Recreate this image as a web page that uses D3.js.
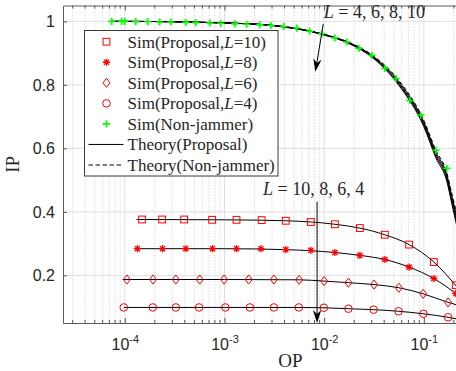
<!DOCTYPE html>
<html><head><meta charset="utf-8">
<script src="https://cdn.jsdelivr.net/npm/d3@7"></script>
<style>body{margin:0;background:#fff} svg{display:block}</style>
</head><body><svg id="chart" width="456" height="371"></svg>
<script>
// Tick values
const opTicks = [1e-4, 1e-3, 1e-2, 1e-1];
const ipTicks = [0.2, 0.4, 0.6, 0.8, 1];

// Simulation: non-jammer
const simNJ_OP = [7.41e-5, 9.33e-5, 1.0e-4, 1.29e-4, 1.70e-4, 2.24e-4, 2.90e-4, 4.09e-4, 5.15e-4, 7.13e-4, 9.18e-4, 1.27e-3, 1.67e-3, 2.26e-3, 2.92e-3, 3.94e-3, 5.32e-3, 7.13e-3, 9.48e-3, 1.28e-2, 1.69e-2, 2.23e-2, 3.01e-2, 4.06e-2, 5.24e-2, 7.23e-2, 9.33e-2, 0.132, 0.170];
const simNJ_IP = [1.000, 1.000, 1.000, 0.999, 0.999, 0.998, 0.998, 0.997, 0.996, 0.995, 0.994, 0.992, 0.991, 0.989, 0.987, 0.984, 0.979, 0.969, 0.961, 0.948, 0.935, 0.915, 0.893, 0.852, 0.820, 0.751, 0.705, 0.594, 0.537];

// Simulation: proposal, per L
const simL10_OP = [1.49e-4, 2.37e-4, 3.94e-4, 7.52e-4, 1.32e-3, 2.36e-3, 4.12e-3, 7.35e-3, 1.28e-2, 2.28e-2, 4.06e-2, 7.11e-2, 0.126, 0.209];
const simL10_IP = [0.376, 0.376, 0.376, 0.375, 0.375, 0.374, 0.372, 0.368, 0.361, 0.349, 0.328, 0.297, 0.242, 0.169];
const simL8_OP = [1.34e-4, 2.39e-4, 4.09e-4, 7.59e-4, 1.32e-3, 2.32e-3, 4.12e-3, 7.35e-3, 1.28e-2, 2.28e-2, 4.06e-2, 7.11e-2, 0.126, 0.209];
const simL8_IP = [0.284, 0.284, 0.284, 0.284, 0.284, 0.284, 0.281, 0.279, 0.272, 0.263, 0.250, 0.226, 0.190, 0.143];
const simL6_OP = [1.05e-4, 1.92e-4, 3.25e-4, 5.65e-4, 9.91e-4, 1.75e-3, 3.13e-3, 5.61e-3, 1.0e-2, 1.75e-2, 3.17e-2, 5.61e-2, 9.84e-2, 0.175];
const simL6_IP = [0.187, 0.187, 0.187, 0.187, 0.187, 0.187, 0.187, 0.186, 0.182, 0.177, 0.171, 0.161, 0.142, 0.115];
const simL4_OP = [9.77e-5, 1.91e-4, 3.25e-4, 5.56e-4, 1.02e-3, 1.80e-3, 3.13e-3, 5.57e-3, 9.93e-3, 1.75e-2, 3.13e-2, 5.57e-2, 9.89e-2, 0.175];
const simL4_IP = [0.099, 0.099, 0.099, 0.099, 0.099, 0.099, 0.099, 0.099, 0.098, 0.095, 0.092, 0.087, 0.079, 0.068];

// Theory: upper curves (non-jammer and proposal for L = 4, 6, 8, 10)
const thTop_OP = [7.2e-5, 1e-4, 1e-3, 3.16e-3, 1e-2, 1.78e-2, 3.16e-2, 5.62e-2, 0.1, 0.132, 0.17, 0.19, 0.214];
const thNJ_IP     = [1.0, 1.0, 0.995, 0.987, 0.959, 0.934, 0.890, 0.814, 0.688, 0.594, 0.524, 0.460, 0.395];
const thTopL4_IP  = [1.0, 1.0, 0.995, 0.987, 0.959, 0.933, 0.888, 0.810, 0.683, 0.588, 0.517, 0.452, 0.385];
const thTopL6_IP  = [1.0, 1.0, 0.995, 0.987, 0.958, 0.932, 0.886, 0.806, 0.678, 0.582, 0.510, 0.444, 0.375];
const thTopL8_IP  = [1.0, 1.0, 0.995, 0.986, 0.958, 0.931, 0.884, 0.802, 0.673, 0.576, 0.503, 0.436, 0.365];
const thTopL10_IP = [1.0, 1.0, 0.995, 0.986, 0.957, 0.930, 0.882, 0.798, 0.668, 0.570, 0.496, 0.428, 0.355];

// Theory: lower curves (proposal)
const thL10_OP = [1.31e-4, 1e-3, 4.12e-3, 1.28e-2, 2.28e-2, 4.06e-2, 7.11e-2, 0.126, 0.22];
const thL10_IP = [0.376, 0.375, 0.372, 0.361, 0.349, 0.328, 0.297, 0.242, 0.160];
const thL8_OP = [1.30e-4, 1e-3, 4.12e-3, 1.28e-2, 2.28e-2, 4.06e-2, 7.11e-2, 0.126, 0.22];
const thL8_IP = [0.284, 0.284, 0.281, 0.272, 0.263, 0.250, 0.226, 0.190, 0.138];
const thL6_OP = [9.5e-5, 1e-3, 5.61e-3, 1e-2, 1.75e-2, 3.17e-2, 5.61e-2, 9.84e-2, 0.175, 0.22];
const thL6_IP = [0.187, 0.187, 0.186, 0.182, 0.177, 0.171, 0.161, 0.142, 0.115, 0.106];
const thL4_OP = [9.77e-5, 1e-3, 5.57e-3, 9.93e-3, 1.75e-2, 3.13e-2, 5.57e-2, 9.89e-2, 0.175, 0.22];
const thL4_IP = [0.099, 0.099, 0.099, 0.098, 0.095, 0.092, 0.087, 0.079, 0.068, 0.062];

const legendLabels = [
  ["Sim(Proposal,", "L", "=10)"],
  ["Sim(Proposal,", "L", "=8)"],
  ["Sim(Proposal,", "L", "=6)"],
  ["Sim(Proposal,", "L", "=4)"],
  ["Sim(Non-jammer)"],
  ["Theory(Proposal)"],
  ["Theory(Non-jammer)"]
];

const zip = (a, b) => a.map((v, i) => [v, b[i]]);

const svg = d3.select("#chart");
const plot = {left: 63, top: 5.5, right: 458, bottom: 323};
const x = d3.scaleLog().domain([2.4e-5, 0.22]).range([plot.left, plot.right]);
const y = d3.scaleLinear().domain([0.05, 1.05]).range([plot.bottom, plot.top]);

const serif = "'Liberation Serif', 'Times New Roman', serif";
const sans = "'Liberation Sans', Arial, Helvetica, sans-serif";
const red = "#ff0000", green = "#00ff00";

svg.append("rect").attr("width", 456).attr("height", 371).attr("fill", "#fff");

svg.append("defs").append("clipPath").attr("id", "clip")
  .append("rect").attr("x", plot.left).attr("y", plot.top)
  .attr("width", plot.right - plot.left).attr("height", plot.bottom - plot.top);

// Grid
const minorOP = [];
for (let k = -5; k <= -1; k++) for (let m = 2; m <= 9; m++) {
  const v = m * Math.pow(10, k);
  if (v > x.domain()[0] && v < x.domain()[1]) minorOP.push(v);
}
const grid = svg.append("g");
grid.selectAll(".gmin").data(minorOP).join("line")
  .attr("x1", d => x(d)).attr("x2", d => x(d))
  .attr("y1", plot.top).attr("y2", plot.bottom)
  .attr("stroke", "#bdbdbd").attr("stroke-width", 0.8).attr("stroke-dasharray", "1,2");
grid.selectAll(".gmajx").data(opTicks).join("line")
  .attr("x1", d => x(d)).attr("x2", d => x(d))
  .attr("y1", plot.top).attr("y2", plot.bottom)
  .attr("stroke", "#dedede").attr("stroke-width", 1);
grid.selectAll(".gmajy").data(ipTicks).join("line")
  .attr("x1", plot.left).attr("x2", plot.right)
  .attr("y1", d => y(d)).attr("y2", d => y(d))
  .attr("stroke", "#dedede").attr("stroke-width", 1);

// Lines
const line = d3.line().x(d => x(d[0])).y(d => y(d[1])).curve(d3.curveMonotoneX);
const lines = svg.append("g").attr("clip-path", "url(#clip)");
const solid = [
  zip(thTop_OP, thTopL4_IP), zip(thTop_OP, thTopL6_IP), zip(thTop_OP, thTopL8_IP), zip(thTop_OP, thTopL10_IP),
  zip(thL10_OP, thL10_IP), zip(thL8_OP, thL8_IP), zip(thL6_OP, thL6_IP), zip(thL4_OP, thL4_IP)
];
lines.selectAll(".solid").data(solid).join("path")
  .attr("d", line).attr("fill", "none").attr("stroke", "#000").attr("stroke-width", 1);
lines.append("path").datum(zip(thTop_OP, thNJ_IP))
  .attr("d", line).attr("fill", "none").attr("stroke", "#000").attr("stroke-width", 1)
  .attr("stroke-dasharray", "4,2.5");

// Marker shapes
const shapes = {
  square: g => g.append("rect").attr("x", -3.4).attr("y", -3.4).attr("width", 6.8).attr("height", 6.8)
    .attr("fill", "none").attr("stroke", red).attr("stroke-width", 1),
  star: g => g.append("path").attr("d", "M-3.6,0H3.6M0,-3.6V3.6M-2.6,-2.6L2.6,2.6M-2.6,2.6L2.6,-2.6")
    .attr("fill", "none").attr("stroke", red).attr("stroke-width", 1.3),
  diamond: g => g.append("path").attr("d", "M0,-4.6L3.5,0L0,4.6L-3.5,0Z")
    .attr("fill", "none").attr("stroke", red).attr("stroke-width", 1),
  circle: g => g.append("circle").attr("r", 3.8)
    .attr("fill", "none").attr("stroke", red).attr("stroke-width", 1),
  plus: g => g.append("path").attr("d", "M-3.6,0H3.6M0,-3.6V3.6")
    .attr("fill", "none").attr("stroke", green).attr("stroke-width", 1.6)
};

const marks = svg.append("g");
function drawMarkers(op, ip, shape) {
  marks.append("g").selectAll("g").data(zip(op, ip)).join("g")
    .attr("transform", d => `translate(${x(d[0])},${y(d[1])})`)
    .each(function () { shapes[shape](d3.select(this)); });
}
drawMarkers(simNJ_OP, simNJ_IP, "plus");
drawMarkers(simL10_OP, simL10_IP, "square");
drawMarkers(simL8_OP, simL8_IP, "star");
drawMarkers(simL6_OP, simL6_IP, "diamond");
drawMarkers(simL4_OP, simL4_IP, "circle");

// Axes
const axisColor = "#5a5a5a", textColor = "#262626";
const gx = svg.append("g").attr("transform", `translate(0,${plot.bottom})`)
  .call(d3.axisBottom(x).tickValues(opTicks).tickSize(-5).tickSizeOuter(0).tickFormat(""));
gx.append("g").selectAll("line").data(minorOP).join("line")
  .attr("x1", d => x(d)).attr("x2", d => x(d)).attr("y1", 0).attr("y2", -3);
gx.selectAll(".tick").append("text")
  .attr("y", 27).attr("fill", textColor).attr("font-family", sans).attr("font-size", 16)
  .attr("text-anchor", "middle")
  .each(function (d) {
    const t = d3.select(this);
    t.append("tspan").text("10");
    t.append("tspan").attr("dy", -6.7).attr("font-size", 11).text(String(Math.round(Math.log10(d))));
  });

const gt = svg.append("g").attr("transform", `translate(0,${plot.top})`)
  .call(d3.axisTop(x).tickValues(opTicks).tickSize(-5).tickSizeOuter(0).tickFormat(""));
gt.append("g").selectAll("line").data(minorOP).join("line")
  .attr("x1", d => x(d)).attr("x2", d => x(d)).attr("y1", 0).attr("y2", 3);

const gy = svg.append("g").attr("transform", `translate(${plot.left},0)`)
  .call(d3.axisLeft(y).tickValues(ipTicks).tickSize(-4).tickSizeOuter(0)
    .tickFormat(d => d === 1 ? "1" : d3.format(".1f")(d)));
gy.selectAll(".tick text").attr("x", -8).attr("dy", "0.33em")
  .attr("fill", textColor).attr("font-family", sans).attr("font-size", 16);

[gx, gt, gy].forEach(g => {
  g.selectAll("line").attr("stroke", axisColor);
  g.select(".domain").attr("stroke", axisColor).attr("stroke-width", 1);
});

// Axis titles
svg.append("text").attr("x", (x(1e-2) + x(1e-3)) / 2 + 16).attr("y", 366.5)
  .attr("text-anchor", "middle").attr("font-family", serif).attr("font-size", 19)
  .attr("fill", textColor).text("OP");
svg.append("text").attr("transform", `translate(18.5,${(plot.top + plot.bottom) / 2}) rotate(-90)`)
  .attr("text-anchor", "middle").attr("font-family", serif).attr("font-size", 19)
  .attr("fill", textColor).text("IP");

// Annotations
function arrow(p0, p1) {
  const g = svg.append("g");
  const [x0, y0] = [x(p0[0]), y(p0[1])], [x1, y1] = [x(p1[0]), y(p1[1])];
  const ang = Math.atan2(y1 - y0, x1 - x0) * 180 / Math.PI;
  const len = Math.hypot(x1 - x0, y1 - y0);
  g.append("line").attr("x1", x0).attr("y1", y0).attr("x2", x1 - (x1 - x0) / len * 8).attr("y2", y1 - (y1 - y0) / len * 8)
    .attr("stroke", "#000").attr("stroke-width", 1);
  g.append("path").attr("d", "M0,0L-13,-4.2L-9,0L-13,4.2Z").attr("fill", "#000")
    .attr("transform", `translate(${x1},${y1}) rotate(${ang})`);
}
function mathLabel(p, rest) {
  const t = svg.append("text").attr("x", x(p[0])).attr("y", y(p[1]))
    .attr("font-family", serif).attr("font-size", 18).attr("fill", textColor);
  t.append("tspan").attr("font-style", "italic").text("L");
  t.append("tspan").text(rest);
}
mathLabel([9.9e-3, 1.01], " = 4, 6, 8, 10");
arrow([9.8e-3, 0.992], [8.15e-3, 0.841]);
mathLabel([2.44e-3, 0.453], " = 10, 8, 6, 4");
arrow([8.49e-3, 0.432], [8.49e-3, 0.05]);

// Legend
const lg = svg.append("g");
lg.append("rect").attr("x", 84.5).attr("y", 30.5).attr("width", 193.5).attr("height", 145.5)
  .attr("fill", "#fff").attr("stroke", "#3a3a3a").attr("stroke-width", 1);
const legendShapes = ["square", "star", "diamond", "circle", "plus"];
legendLabels.forEach((lab, i) => {
  const cy = 41.7 + i * 20.55;
  if (i < 5) {
    const g = lg.append("g").attr("transform", `translate(106.5,${cy})`);
    shapes[legendShapes[i]](g);
  } else {
    lg.append("line").attr("x1", 88.5).attr("x2", 123.5).attr("y1", cy).attr("y2", cy)
      .attr("stroke", "#000").attr("stroke-width", 1)
      .attr("stroke-dasharray", i === 6 ? "4.5,2.5" : null);
  }
  const t = lg.append("text").attr("x", 127.5).attr("y", cy).attr("dy", "0.35em")
    .attr("font-family", serif).attr("font-size", 17).attr("fill", textColor);
  t.append("tspan").text(lab[0]);
  if (lab.length > 1) {
    t.append("tspan").attr("font-style", "italic").text(lab[1]);
    t.append("tspan").text(lab[2]);
  }
});
</script></body></html>
